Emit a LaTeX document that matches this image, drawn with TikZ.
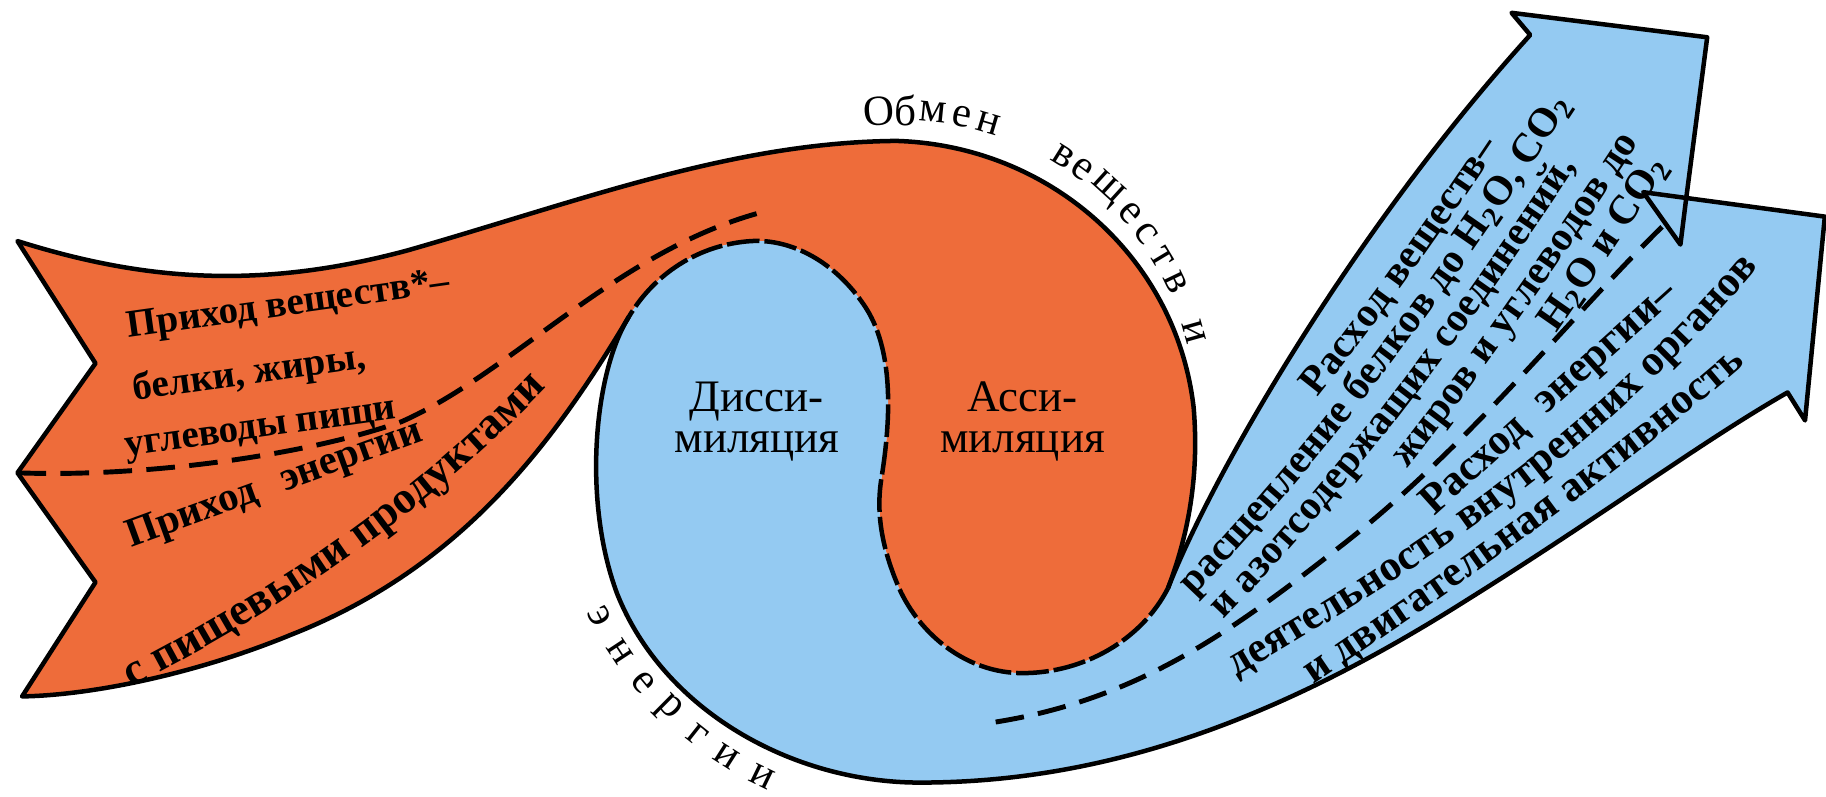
\documentclass[tikz,border=0pt]{standalone}
\usepackage{fontspec}
\setmainfont{Liberation Serif}
\usetikzlibrary{calc,decorations.text}
\definecolor{foodorange}{RGB}{238,108,58}
\definecolor{spendblue}{RGB}{148,202,242}

\begin{document}
\begin{tikzpicture}[x=0.01cm,y=-0.01cm,
    edge/.style={line width=1.1pt,line join=round},
    seam/.style={line width=1.1pt,dash pattern=on 8pt off 1.2pt},
    flow/.style={line width=1.2pt,dash pattern=on 7pt off 3.5pt},
    lbl/.style={font=\fontsize{10.5}{12}\selectfont\bfseries,inner sep=0pt,anchor=base west},
    taillbl/.style={lbl,font=\fontsize{9.5}{11}\selectfont\bfseries},
    lobe/.style={font=\fontsize{11}{10}\selectfont,align=center,inner sep=0pt},
    arcch/.style={font=\fontsize{10.5}{12}\selectfont,inner sep=0pt},
    bent/.style 2 args={decorate,decoration={text along path,
                 text align={left,left indent=#2},
                 text={|\fontsize{10.5}{12}\selectfont\bfseries|#1}}},
    bentup/.style 2 args={decorate,decoration={text along path,
                 text align={left,left indent=#2},
                 text={|\fontsize{10}{12}\selectfont\bfseries|#1}}},
    bentbig/.style={decorate,decoration={text along path,text align=left,
                 text={|\fontsize{11}{12}\selectfont\bfseries|#1}}}]
  \useasboundingbox (0,0) rectangle (1568,684);
  % corners of the shapes
  \coordinate (tl) at (15,207);
  \coordinate (nt) at (82,312);
  \coordinate (ml) at (15,406);
  \coordinate (nb) at (82,500);
  \coordinate (bl) at (19,598);
  \coordinate (K) at (540,272);
  \coordinate (J) at (1003,505);
  \coordinate (X) at (1448,170);
  \coordinate (tailend) at (655,182);
  \coordinate (flowstart) at (855,620);
  \coordinate (flowend) at (1430,192);

  % orange part
  \fill[foodorange] (tl) .. controls (120,240) and (220,250) .. (350,215)
    .. controls (500,172) and (630,122) .. (770,121)
    .. controls (900,125) and (1010,220) .. (1025,350)
    .. controls (1030,410) and (1020,460) .. (J)
    .. controls (980,550) and (930,578) .. (878,578)
    .. controls (830,578) and (790,545) .. (772,505)
    .. controls (757,470) and (752,440) .. (757,410)
    .. controls (765,360) and (768,300) .. (742,262)
    .. controls (717,225) and (680,205) .. (645,207)
    .. controls (600,210) and (562,235) .. (K)
    .. controls (470,390) and (390,490) .. (250,545)
    .. controls (170,578) and (80,597) .. (bl)
    -- (nb) -- (ml) -- (nt) -- cycle;
  % blue part
  \fill[spendblue] (K) .. controls (510,320) and (500,430) .. (530,510)
    .. controls (570,610) and (680,672) .. (790,672)
    .. controls (960,672) and (1110,610) .. (1260,515)
    .. controls (1380,440) and (1460,380) .. (1535,337)
    -- (1550,361) -- (1567,186) -- (X) -- (1466,32) -- (1298,11) -- (1314,30)
    .. controls (1160,200) and (1040,410) .. (J)
    .. controls (980,550) and (930,578) .. (878,578)
    .. controls (830,578) and (790,545) .. (772,505)
    .. controls (757,470) and (752,440) .. (757,410)
    .. controls (765,360) and (768,300) .. (742,262)
    .. controls (717,225) and (680,205) .. (645,207)
    .. controls (600,210) and (562,235) .. (K) -- cycle;

  % outlines
  \draw[edge] (K) .. controls (470,390) and (390,490) .. (250,545)
    .. controls (170,578) and (80,597) .. (bl)
    -- (nb) -- (ml) -- (nt) -- (tl)
    .. controls (120,240) and (220,250) .. (350,215)
    .. controls (500,172) and (630,122) .. (770,121)
    .. controls (900,125) and (1010,220) .. (1025,350)
    .. controls (1030,410) and (1020,460) .. (J);
  \draw[edge] (K) .. controls (510,320) and (500,430) .. (530,510)
    .. controls (570,610) and (680,672) .. (790,672)
    .. controls (960,672) and (1110,610) .. (1260,515)
    .. controls (1380,440) and (1460,380) .. (1535,337)
    -- (1550,361) -- (1567,186) -- (X) -- (1466,32) -- (1298,11) -- (1314,30)
    .. controls (1160,200) and (1040,410) .. (J);
  \draw[edge] (X) -- (1411,165) -- (1443,210) -- cycle;
  \draw[seam] (J) .. controls (980,550) and (930,578) .. (878,578)
    .. controls (830,578) and (790,545) .. (772,505)
    .. controls (757,470) and (752,440) .. (757,410)
    .. controls (765,360) and (768,300) .. (742,262)
    .. controls (717,225) and (680,205) .. (645,207)
    .. controls (600,210) and (562,235) .. (K);

  % dashed dividers
  \draw[flow] (ml) .. controls (120,410) and (260,392) .. (345,362)
    .. controls (440,320) and (530,215) .. (tailend);
  \draw[flow] (flowstart) .. controls (980,600) and (1060,540) .. (1150,470)
    .. controls (1260,385) and (1350,270) .. (flowend);

  % intake
  \node[taillbl,rotate=8] (inA) at (110,290) {Приход веществ*–};
  \node[taillbl,rotate=8] (inB) at (115,344) {белки, жиры,};
  \node[taillbl,rotate=8] (inC) at (108,392) {углеводы пищи};
  \node[lbl,font=\fontsize{10}{12}\selectfont\bfseries,rotate=20] (inD) at (112,470) {Приход\hspace{0.4em} энергии};
  \path[bentbig={с пищевыми продуктами}] (113,590) .. controls (240,525) and (380,435) .. (495,305);

  % lobes
  \node[lobe] (dissim) at (650,362) {Дисси-\\миляция};
  \node[lobe] (assim) at (878,362) {Асси-\\миляция};

  % spending of matter, lines follow one bent guide
  \path[bentup={Расход  веществ–}{2cm},shift={(-25,-20)}]
    (1025,512) .. controls (1159,373) and (1265,222) .. (1385,35);
  \path[bentup={расщепление белков до H{\textsubscript{2}}O, CO{\textsubscript{2}}}{0cm}]
    (1025,512) .. controls (1159,373) and (1265,222) .. (1385,35);
  \path[bentup={и азотсодержащих соединений,}{0cm},shift={(26,20)}]
    (1025,512) .. controls (1159,373) and (1265,222) .. (1385,35);
  \path[bentup={жиров и углеводов до}{2cm},shift={(52,41)}]
    (1025,512) .. controls (1159,373) and (1265,222) .. (1385,35);
  \path[bentup={H{\textsubscript{2}}O и CO{\textsubscript{2}}}{3.7cm},shift={(78,61)}]
    (1025,512) .. controls (1159,373) and (1265,222) .. (1385,35);
  % spending of energy
  \node[lbl,rotate=42] (outF) at (1231,444) {Расход\hspace{0.3em} энергии–};
  \path[bent={деятельность внутренних органов}{0cm}] (1062,581) .. controls (1225,485) and (1385,385) .. (1530,205);
  \path[bent={и двигательная активность}{0cm}] (1128,588) .. controls (1250,505) and (1390,410) .. (1530,285);

  % words round the circle
  \coordinate (arcup) at (775,355);
  \foreach \ch/\a [count=\i] in {О/94.5,б/89.5,м/84.3,е/78.8,н/73.5,в/58,е/53.6,щ/47.7,е/41.4,с/36.6,т/31,в/25.7,и/15.7}
    \node[arcch,rotate=\a-90] (up\i) at ($(arcup)+(\a:2.6cm)$) {\ch};
  \coordinate (arcdown) at (790,390);
  \foreach \ch/\a [count=\i] in {э/206.9,н/213.3,е/219.6,р/225.3,г/231.6,и/237.4,и/244}
    \node[arcch,rotate=\a+90] (down\i) at ($(arcdown)+(\a:3.08cm)$) {\ch};
\end{tikzpicture}
\end{document}
